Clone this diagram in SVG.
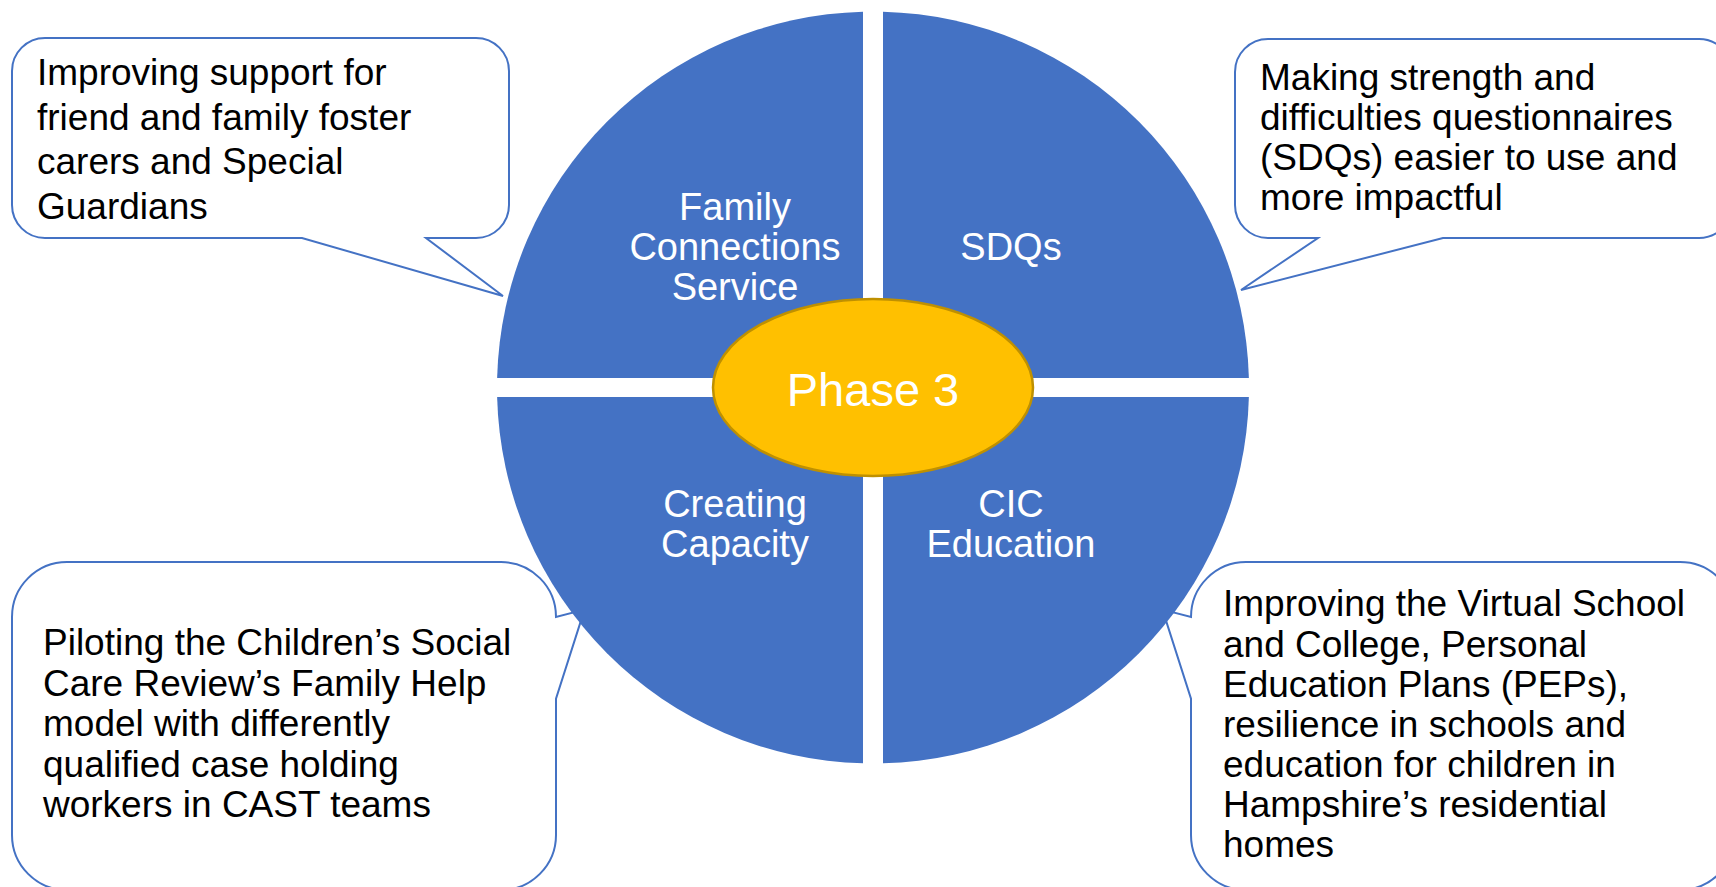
<svg xmlns="http://www.w3.org/2000/svg" width="1716" height="887" viewBox="0 0 1716 887">
  <style>
    .callout { fill: #FFFFFF; stroke: #4472C4; stroke-width: 2; stroke-linejoin: miter; }
    .quad { fill: #4472C4; }
    .ctext { font-family: "Liberation Sans", Arial, sans-serif; font-size: 37px; fill: #000000; }
    .qtext { font-family: "Liberation Sans", Arial, sans-serif; font-size: 38px; fill: #FFFFFF; text-anchor: middle; }
    .hub { fill: #FFC000; stroke: #BF9000; stroke-width: 2.5; }
    .hubtext { font-family: "Liberation Sans", Arial, sans-serif; font-size: 47px; fill: #FFFFFF; text-anchor: middle; }
  </style>
  <rect x="0" y="0" width="1716" height="887" fill="#FFFFFF"/>

  <g id="callout-top-left">
    <path class="callout" d="M45,38 H476 A33,33 0 0 1 509,71 V205 A33,33 0 0 1 476,238 H426 L503,296 L302,238 H45 A33,33 0 0 1 12,205 V71 A33,33 0 0 1 45,38 Z"/>
    <text class="ctext" x="37" y="85">Improving support for</text>
    <text class="ctext" x="37" y="129.5">friend and family foster</text>
    <text class="ctext" x="37" y="174">carers and Special</text>
    <text class="ctext" x="37" y="218.5">Guardians</text>
  </g>

  <g id="callout-top-right">
    <path class="callout" d="M1268,39 H1699 A33,33 0 0 1 1732,72 V205 A33,33 0 0 1 1699,238 H1443 L1241,290 L1318,238 H1268 A33,33 0 0 1 1235,205 V72 A33,33 0 0 1 1268,39 Z"/>
    <text class="ctext" x="1260" y="90">Making strength and</text>
    <text class="ctext" x="1260" y="130">difficulties questionnaires</text>
    <text class="ctext" x="1260" y="170">(SDQs) easier to use and</text>
    <text class="ctext" x="1260" y="210">more impactful</text>
  </g>

  <g id="callout-bottom-left">
    <path class="callout" d="M67,562 H501 A55,55 0 0 1 556,617 L584.5,609.6 L556,698.7 V835 A55,55 0 0 1 501,890 H67 A55,55 0 0 1 12,835 V617 A55,55 0 0 1 67,562 Z"/>
    <text class="ctext" x="43" y="655">Piloting the Children’s Social</text>
    <text class="ctext" x="43" y="695.5">Care Review’s Family Help</text>
    <text class="ctext" x="43" y="736">model with differently</text>
    <text class="ctext" x="43" y="776.5">qualified case holding</text>
    <text class="ctext" x="43" y="817">workers in CAST teams</text>
  </g>

  <g id="callout-bottom-right">
    <path class="callout" d="M1246,562 H1680 A55,55 0 0 1 1735,617 V835 A55,55 0 0 1 1680,890 H1246 A55,55 0 0 1 1191,835 V698.7 L1162.5,609.6 L1191,617 A55,55 0 0 1 1246,562 Z"/>
    <text class="ctext" x="1223" y="616">Improving the Virtual School</text>
    <text class="ctext" x="1223" y="656.5">and College, Personal</text>
    <text class="ctext" x="1223" y="697">Education Plans (PEPs),</text>
    <text class="ctext" x="1223" y="737">resilience in schools and</text>
    <text class="ctext" x="1223" y="777">education for children in</text>
    <text class="ctext" x="1223" y="817">Hampshire’s residential</text>
    <text class="ctext" x="1223" y="857">homes</text>
  </g>

  <g id="quadrant-family-connections">
    <path class="quad" d="M863,378 L863,11.63 A376,376 0 0 0 497.12,378 Z"/>
    <text class="qtext" x="735" y="220">Family</text>
    <text class="qtext" x="735" y="260">Connections</text>
    <text class="qtext" x="735" y="300">Service</text>
  </g>

  <g id="quadrant-sdqs">
    <path class="quad" d="M883,378 L883,11.63 A376,376 0 0 1 1248.88,378 Z"/>
    <text class="qtext" x="1011" y="260">SDQs</text>
  </g>

  <g id="quadrant-creating-capacity">
    <path class="quad" d="M863,397 L863,763.37 A376,376 0 0 1 497.12,397 Z"/>
    <text class="qtext" x="735" y="517">Creating</text>
    <text class="qtext" x="735" y="557">Capacity</text>
  </g>

  <g id="quadrant-cic-education">
    <path class="quad" d="M883,397 L883,763.37 A376,376 0 0 0 1248.88,397 Z"/>
    <text class="qtext" x="1011" y="517">CIC</text>
    <text class="qtext" x="1011" y="557">Education</text>
  </g>

  <g id="hub-phase-3">
    <ellipse class="hub" cx="873" cy="387.5" rx="160" ry="88.5"/>
    <text class="hubtext" x="873" y="406">Phase 3</text>
  </g>

  <g id="connectors"/>
</svg>
